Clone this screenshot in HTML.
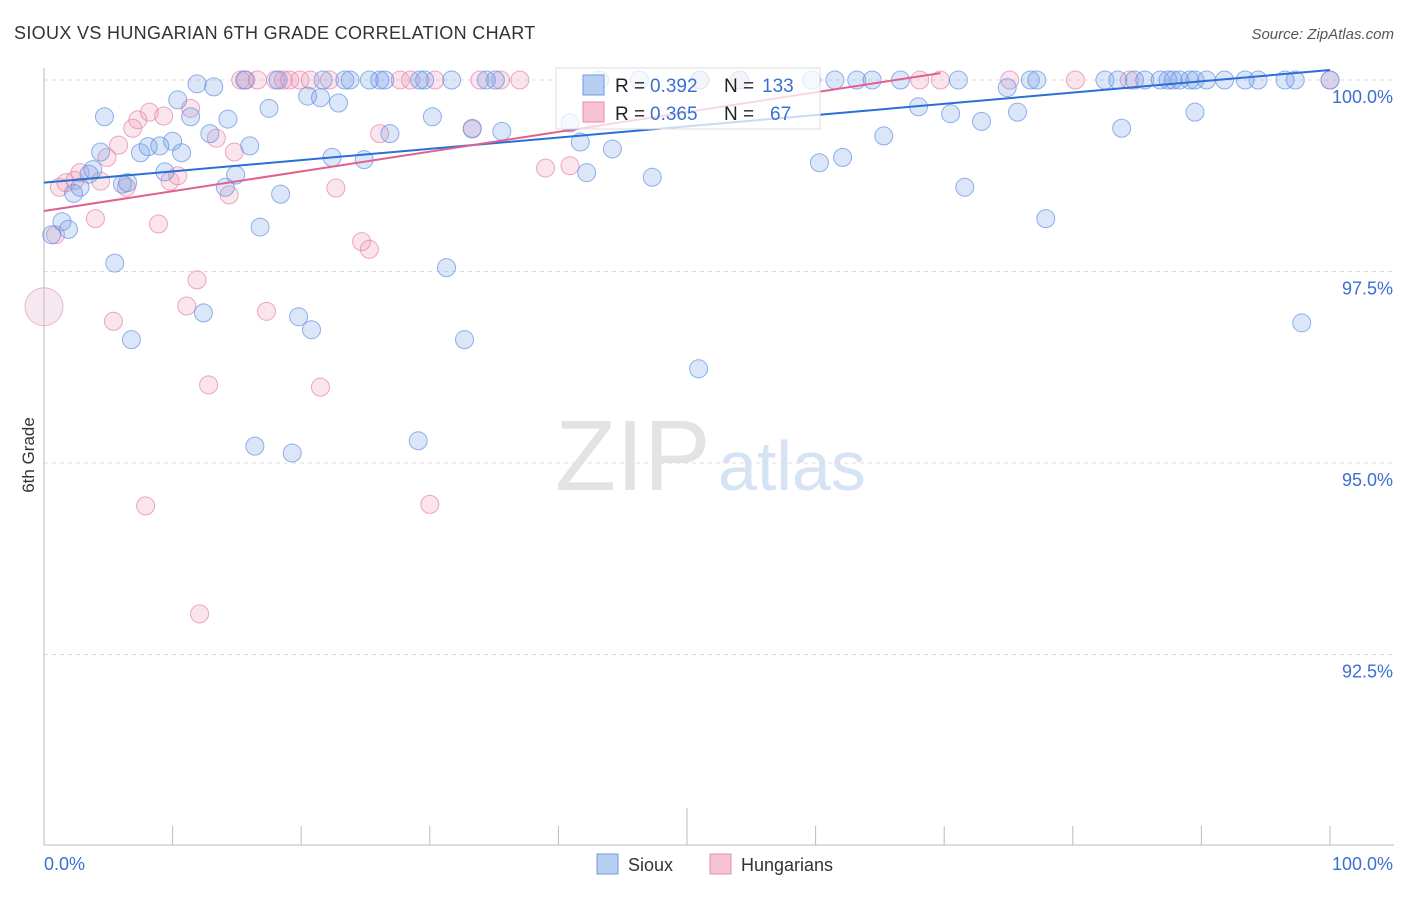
<!DOCTYPE html>
<html><head><meta charset="utf-8"><style>
body{margin:0;background:#fff;font-family:"Liberation Sans",sans-serif;}
svg text{font-family:"Liberation Sans",sans-serif;}
</style></head><body>
<svg id="chart" width="1406" height="892">
<text x="14" y="39" font-size="18" fill="#333" letter-spacing="0.33">SIOUX VS HUNGARIAN 6TH GRADE CORRELATION CHART</text>
<text x="1394" y="39" font-size="15" fill="#555" text-anchor="end" font-style="italic">Source: ZipAtlas.com</text>
<text transform="translate(34,455) rotate(-90)" font-size="17" fill="#333" text-anchor="middle">6th Grade</text>
<g><text x="555" y="490" font-size="100" fill="#e3e3e3" font-family="Liberation Serif">ZIP</text><text x="718" y="490" font-size="70" fill="#d6e3f5">atlas</text></g>
<g id="grid"></g><g id="pts"></g><g id="trend"></g>
<g>
<rect x="556" y="68" width="264" height="61" fill="rgba(255,255,255,0.75)" stroke="#ddd"/>
<rect x="583" y="75" width="21" height="20" fill="#b9cff2" stroke="#6a9be0"/>
<rect x="583" y="102" width="21" height="20" fill="#f7c2d3" stroke="#e88fb0"/>
<text x="615" y="92" font-size="19" fill="#222">R =</text>
<text x="650" y="92" font-size="19" fill="#3b6fd4">0.392</text>
<text x="724" y="92" font-size="19" fill="#222">N =</text>
<text x="762" y="92" font-size="19" fill="#3b6fd4">133</text>
<text x="615" y="120" font-size="19" fill="#222">R =</text>
<text x="650" y="120" font-size="19" fill="#3b6fd4">0.365</text>
<text x="724" y="120" font-size="19" fill="#222">N =</text>
<text x="770" y="120" font-size="19" fill="#3b6fd4">67</text>
</g>
<g>
<rect x="597" y="854" width="21" height="20" fill="#b9cff2" stroke="#6a9be0"/>
<text x="628" y="871" font-size="18" fill="#333">Sioux</text>
<rect x="710" y="854" width="21" height="20" fill="#f7c2d3" stroke="#e88fb0"/>
<text x="741" y="871" font-size="18" fill="#333">Hungarians</text>
</g>
</svg>
<script>
const siouxX=[0.6,1.4,1.9,2.3,2.8,3.8,3.5,4.7,4.4,5.5,6.1,6.5,6.8,7.5,8.1,9.0,9.4,10.0,10.4,10.7,11.4,11.9,12.4,12.9,13.2,14.1,14.3,14.9,15.6,16.0,16.4,16.8,17.5,18.2,18.4,19.3,19.8,20.5,20.8,21.5,21.7,22.4,22.9,23.4,23.8,24.9,25.3,26.1,26.5,26.9,29.1,29.2,29.6,30.2,31.3,31.7,32.7,33.3,34.4,35.1,35.6,40.9,41.7,42.2,43.2,44.2,46.3,47.3,50.9,51.0,54.1,59.7,60.3,61.5,62.1,63.2,64.4,65.3,66.6,68.0,70.5,71.1,71.6,72.9,74.9,75.7,76.7,77.2,77.9,82.5,83.5,83.8,84.8,85.6,86.8,87.4,87.8,88.3,89.1,89.5,89.5,90.4,91.8,93.4,94.4,96.5,97.3,97.8,100];
const siouxY=[97.98,98.15,98.05,98.52,98.60,98.83,98.77,99.52,99.06,97.61,98.64,98.66,96.61,99.05,99.13,99.14,98.80,99.20,99.74,99.05,99.52,99.95,96.96,99.30,99.91,98.60,99.49,98.76,100,99.14,95.22,98.08,99.63,100,98.51,95.13,96.91,99.79,96.74,99.77,100,98.99,99.70,100,100,98.96,100,100,100,99.30,95.29,100,100,99.52,97.55,100,96.61,99.36,100,100,99.33,99.44,99.19,98.79,100,99.10,100,98.73,96.23,100,100,100,98.92,100,98.99,100,100,99.27,100,99.65,99.56,100,98.60,99.46,99.90,99.58,100,100,98.19,100,100,99.37,100,100,100,100,100,100,100,100,99.58,100,100,100,100,100,100,96.83,100];
const hungX=[0.9,1.2,1.7,2.4,2.8,4.0,4.4,4.9,5.4,5.8,6.4,6.9,7.3,8.2,8.9,9.3,9.8,10.4,11.1,11.4,11.9,12.8,12.1,7.9,13.4,14.4,14.8,15.3,15.7,16.6,17.3,18.0,18.6,19.1,19.9,20.7,21.5,22.2,22.7,24.7,25.3,26.1,27.7,28.5,30.0,30.4,33.3,33.9,35.5,37.0,39.0,40.9,42.8,51.0,54.1,68.1,69.7,75.1,80.2,84.4,100];
const hungY=[97.98,98.60,98.66,98.69,98.79,98.19,98.68,98.99,96.85,99.15,98.60,99.37,99.48,99.58,98.12,99.53,98.68,98.75,97.05,99.63,97.39,96.02,93.03,94.44,99.24,98.50,99.06,100,100,100,96.98,100,100,100,100,100,95.99,100,98.59,97.89,97.79,99.30,100,100,94.46,100,99.37,100,100,100,98.85,98.88,99.49,100,100,100,100,100,100,100,100];
const bigX=[0], bigY=[97.04];
const yTicks=[100,97.5,95,92.5];
const yTickLabels=["100.0%","97.5%","95.0%","92.5%"];
const siouxTrend=[[0,98.66],[100,100.13]];
const hungTrend=[[0,98.29],[69.7,100.09]];
const sx=v=>44+v*12.86, sy=v=>80+(100-v)*76.6;
const NS="http://www.w3.org/2000/svg";
function mk(t,a,p){const e=document.createElementNS(NS,t);for(const k in a)e.setAttribute(k,a[k]);p.appendChild(e);return e;}
const grid=document.getElementById('grid'),pts=document.getElementById('pts'),tr=document.getElementById('trend');
yTicks.forEach((t,i)=>{
 const l=mk('line',{x1:44,x2:1394,y1:sy(t),y2:sy(t),stroke:'#ddd','stroke-dasharray':'4,4'},grid);
 
 
 const tx=mk('text',{x:1393,y:sy(t)+23,'font-size':18,fill:'#3b6fd4','text-anchor':'end'},grid);
 tx.textContent=yTickLabels[i];
 
 
});
const ax=mk('line',{x1:44,x2:44,y1:68,y2:845,stroke:'#bbb'},grid);


const bx=mk('line',{x1:44,x2:1394,y1:845,y2:845,stroke:'#bbb'},grid);


for(let i=0;i<=10;i++){const x=sx(i*10);const tk=mk('line',{x1:x,x2:x,y1:i==5?808:826,y2:845,stroke:'#bbb'},grid);
 
 }
const xl0=mk('text',{x:44,y:870,'font-size':18,fill:'#3b6fd4'},grid);xl0.textContent='0.0%';


const xl1=mk('text',{x:1393,y:870,'font-size':18,fill:'#3b6fd4','text-anchor':'end'},grid);xl1.textContent='100.0%';


hungX.forEach((x,i)=>{const c=mk('circle',{cx:sx(x),cy:sy(hungY[i]),r:9,fill:'rgba(240,150,180,0.25)',stroke:'rgba(230,130,170,0.7)'},pts);
 
 });
siouxX.forEach((x,i)=>{const c=mk('circle',{cx:sx(x),cy:sy(siouxY[i]),r:9,fill:'rgba(110,155,230,0.25)',stroke:'rgba(100,145,225,0.7)'},pts);
 
 });
bigX.forEach((x,i)=>{const c=mk('circle',{cx:sx(x),cy:sy(bigY[i]),r:19,fill:'rgba(225,180,205,0.3)',stroke:'rgba(220,140,180,0.6)'},pts);
 
 });
const t1=mk('line',{x1:sx(siouxTrend[0][0]),y1:sy(siouxTrend[0][1]),x2:sx(siouxTrend[1][0]),y2:sy(siouxTrend[1][1]),stroke:'#2a6fd6','stroke-width':2},tr);


const t2=mk('line',{x1:sx(hungTrend[0][0]),y1:sy(hungTrend[0][1]),x2:sx(hungTrend[1][0]),y2:sy(hungTrend[1][1]),stroke:'#e0608e','stroke-width':2},tr);


</script>
</body></html>
